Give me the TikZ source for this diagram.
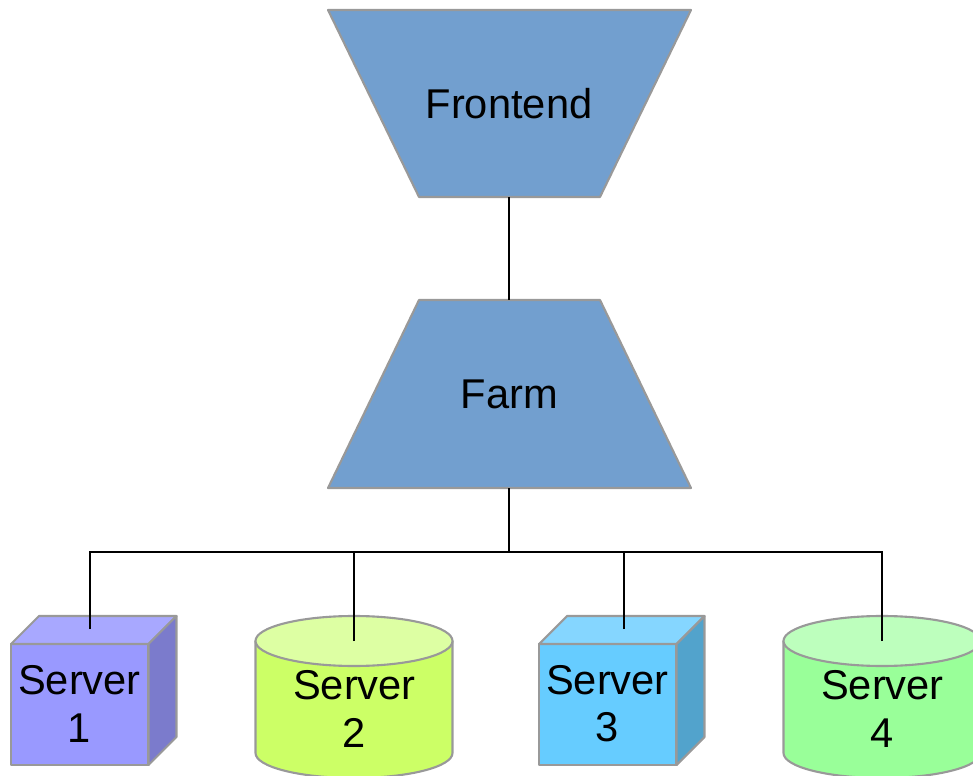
\documentclass[tikz,border=0pt]{standalone}
\usepackage{fontspec}
\setmainfont{Liberation Sans}
\definecolor{tierblue}{HTML}{729FCF}
\definecolor{edgegray}{HTML}{999999}
\definecolor{violetfront}{HTML}{9999FF}
\definecolor{violettop}{HTML}{A8A8FF}
\definecolor{violetside}{HTML}{7B7BCC}
\definecolor{limebody}{HTML}{CCFF66}
\definecolor{limetop}{HTML}{DDFFA3}
\definecolor{skyfront}{HTML}{66CCFF}
\definecolor{skytop}{HTML}{85D6FF}
\definecolor{skyside}{HTML}{52A3CC}
\definecolor{mintbody}{HTML}{99FF99}
\definecolor{minttop}{HTML}{BDFFBD}
\tikzset{
  outline/.style={draw=edgegray, line width=1.2pt, line join=round},
  tier/.style={outline, fill=tierblue},
  wire/.style={draw=black, line width=1pt},
  label/.style={font=\fontsize{23.7}{26.8}\selectfont, align=center, inner sep=0pt}
}
% box seen from above right: x of front left, front, top, side colour
\newcommand{\servercube}[4]{
  \filldraw[outline, fill=#2] (#1, 644) rectangle ++(137.5, 121);
  \filldraw[outline, fill=#3] (#1, 644) -- ++(28, -28) -- ++(137.5, 0) -- ++(-28, 28) -- cycle;
  \filldraw[outline, fill=#4] (#1+137.5, 644) -- ++(28, -28) -- ++(0, 121) -- ++(-28, 28) -- cycle;
}
% upright drum: x of centre, body, top colour
\newcommand{\serverdrum}[3]{
  \filldraw[outline, fill=#2] (#1-98.5, 641) -- ++(0, 112) arc (180:0:98.5 and 25) -- ++(0, -112) -- cycle;
  \filldraw[outline, fill=#3] (#1, 641) ellipse (98.5 and 25);
}
\begin{document}
\begin{tikzpicture}[x=0.02cm, y=-0.02cm]
  \clip (0, 0) rectangle (973, 776);
  \filldraw[tier] (328, 10) -- (691, 10) -- (600, 197) -- (419, 197) -- cycle;
  \filldraw[tier] (419, 300) -- (600, 300) -- (691, 488) -- (328, 488) -- cycle;
  \node[label] (frontend) at (509, 104) {Frontend};
  \node[label] (farm) at (509.5, 394) {Farm};

  \servercube{11}{violetfront}{violettop}{violetside}
  \serverdrum{354}{limebody}{limetop}
  \servercube{539}{skyfront}{skytop}{skyside}
  \serverdrum{882}{mintbody}{minttop}

  \node[label] (server1) at (79.5, 704) {Server\\1};
  \node[label] (server2) at (354.5, 709) {Server\\2};
  \node[label] (server3) at (607.5, 704) {Server\\3};
  \node[label] (server4) at (882.5, 709) {Server\\4};

  \coordinate (frontendfoot) at (509, 197);
  \coordinate (farmhead) at (509, 300);
  \coordinate (farmfoot) at (509, 488);
  \coordinate (bus) at (509, 552);
  \coordinate (port1) at (90, 629);
  \coordinate (port2) at (354, 641);
  \coordinate (port3) at (624, 629);
  \coordinate (port4) at (882, 641);

  \draw[wire] (frontendfoot) -- (farmhead);
  \draw[wire] (farmfoot) -- (bus);
  \foreach \n in {1,...,4}
    \draw[wire] (port\n) |- (bus);
\end{tikzpicture}
\end{document}
